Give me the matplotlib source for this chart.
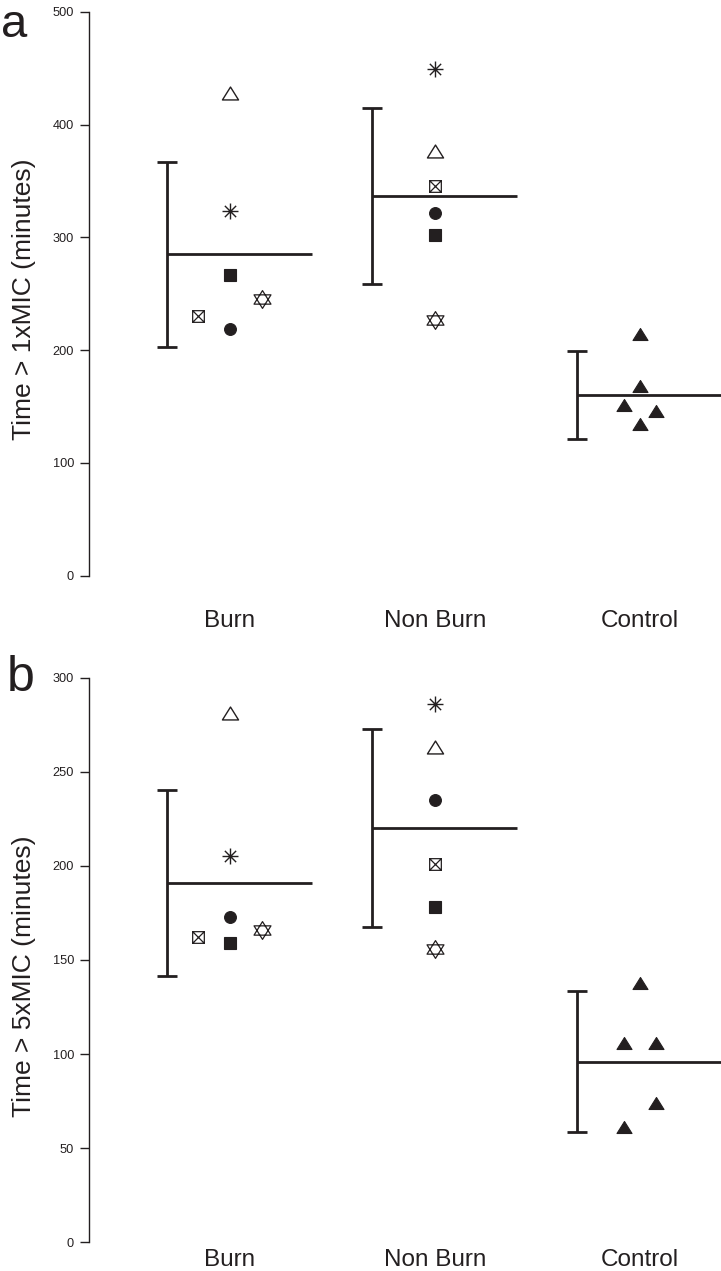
import numpy as np
import matplotlib
matplotlib.use("Agg")
import matplotlib.pyplot as plt
from matplotlib.path import Path

plt.rcParams['font.family'] = ['Liberation Sans', 'DejaVu Sans']

groups = ["Burn", "Non Burn", "Control"]

# one value per animal, burn / non burn order:
# open triangle, asterisk, filled square, star, boxed x, filled circle
burn_1x = [428, 323, 267, 245, 230, 219]
nonburn_1x = [377, 449, 302, 227, 346, 322]
control_1x = [214, 168, 151, 146, 134]

burn_5x = [281, 205, 159, 166, 162, 173]
nonburn_5x = [263, 286, 178, 156, 201, 235]
control_5x = [138, 106, 106, 74, 61]

# group mean and SD
mean_1x = [285, 337, 160]
sd_1x = [82, 78, 39]
mean_5x = [191, 220, 96]
sd_5x = [49.5, 52.7, 37.5]

INK = '#231f20'
M, L, C = Path.MOVETO, Path.LINETO, Path.CLOSEPOLY

tri_up = Path([(0, 0.8), (-1, -0.8), (1, -0.8), (0, 0.8)], [M, L, L, C])
hexagram = Path([(0, 1.05), (-1, -0.55), (1, -0.55), (0, 1.05),
                 (0, -1.05), (-1, 0.55), (1, 0.55), (0, -1.05)],
                [M, L, L, C, M, L, L, C])
boxed_x = Path([(-1, -1), (1, -1), (1, 1), (-1, 1), (-1, -1),
                (-1, -1), (1, 1), (-1, 1), (1, -1)],
               [M, L, L, L, C, M, L, M, L])
ang = np.deg2rad([0, 45, 90, 135])
ast_verts = []
for a in ang:
    ast_verts += [(np.cos(a), np.sin(a)), (-np.cos(a), -np.sin(a))]
asterisk = Path(ast_verts, [M, L] * 4)

# marker per animal (same order as the value lists)
styles = [
    dict(marker=tri_up, ms=11.6, mfc='white', mec=INK, mew=1.0),
    dict(marker=asterisk, ms=11.5, mfc='none', mec=INK, mew=1.0),
    dict(marker='s', ms=8.0, mfc=INK, mec=INK, mew=0.8),
    dict(marker=hexagram, ms=12.8, mfc='white', mec=INK, mew=0.9),
    dict(marker=boxed_x, ms=8.4, mfc='white', mec=INK, mew=0.9),
    dict(marker='o', ms=8.5, mfc=INK, mec=INK, mew=0.8),
]
control_style = dict(marker=tri_up, ms=10.8, mfc=INK, mec=INK, mew=0.8)

# horizontal spread inside a group
burn_dx = np.array([0, 0, 0, 1, -1, 0]) * 0.156
nonburn_dx = np.zeros(6)
control_dx_1x = np.array([0, 0, -1, 1, 0]) * 0.078
control_dx_5x = np.array([0, -1, 1, 1, -1]) * 0.078

bar_dx = -0.307
line_end = 0.40

fig = plt.figure(figsize=(7.21, 12.71), dpi=100)
H = 1271.0
W = 721.0


def draw(ax, burn, nonburn, control, control_dx, means, sds, ymax, step, label_pad):
    xs = np.arange(3)
    for g, (vals, dx) in enumerate([(burn, burn_dx), (nonburn, nonburn_dx)]):
        for v, d, st in zip(vals, dx, styles):
            ax.plot(g + d, v, ls='none', clip_on=False, **st)
    ax.plot(2 + control_dx, control, ls='none', clip_on=False, **control_style)

    ax.errorbar(xs + bar_dx, means, yerr=sds, fmt='none', ecolor=INK,
                elinewidth=2.0, capsize=7.2, capthick=2.0)
    ax.hlines(means, xs + bar_dx, xs + line_end, colors=INK, lw=2.0, clip_on=False)

    ax.set_xlim(-0.688, 2.395)
    ax.set_ylim(0, ymax)
    ax.set_yticks(np.arange(0, ymax + 1, step))
    ax.set_xticks(xs, groups)
    ax.tick_params(axis='x', length=0, pad=label_pad, labelsize=17.5, labelcolor=INK)
    ax.tick_params(axis='y', length=6.5, width=1.0, pad=4.3, labelsize=9.2, colors=INK)
    for s in ['top', 'right', 'bottom']:
        ax.spines[s].set_visible(False)
    ax.spines['left'].set_linewidth(1.0)
    ax.spines['left'].set_color(INK)


ax1 = fig.add_axes([89 / W, 1 - 575.5 / H, 1 - 89 / W, (575.5 - 12) / H])
draw(ax1, burn_1x, nonburn_1x, control_1x, control_dx_1x, mean_1x, sd_1x, 500, 100, 24.5)

ax2 = fig.add_axes([89 / W, 1 - 1242.2 / H, 1 - 89 / W, (1242.2 - 677.7) / H])
draw(ax2, burn_5x, nonburn_5x, control_5x, control_dx_5x, mean_5x, sd_5x, 300, 50, 5.2)

fig.text(24 / W, 1 - 299.5 / H, "Time > 1xMIC (minutes)", rotation=90,
         ha='center', va='center', fontsize=19, color=INK)
fig.text(24 / W, 1 - 976 / H, "Time > 5xMIC (minutes)", rotation=90,
         ha='center', va='center', fontsize=19, color=INK)

fig.text(1 / W, 1 - 37 / H, "a", fontsize=34, va='baseline', color=INK)
fig.text(7 / W, 1 - 691 / H, "b", fontsize=36, va='baseline', color=INK)

fig.savefig("out.png", dpi=100)
